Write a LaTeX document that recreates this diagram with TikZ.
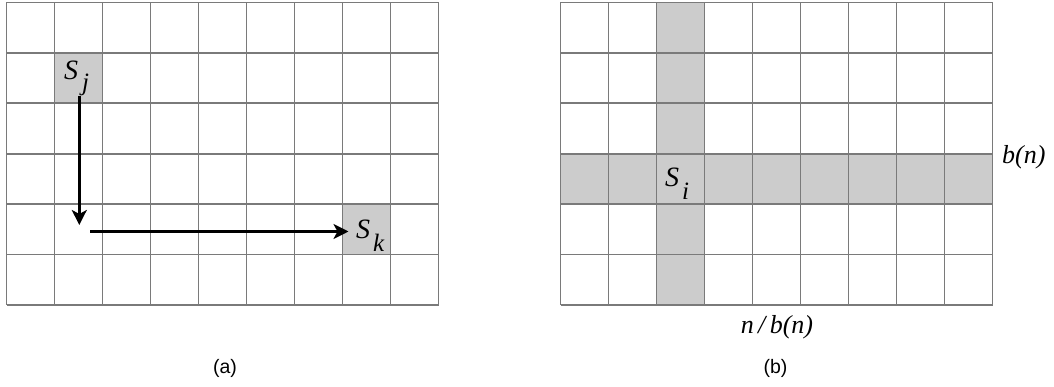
\documentclass[tikz,border=0pt]{standalone}
\usepackage{fontspec}
\setmainfont{Liberation Serif}
\setsansfont{Liberation Sans}
\usetikzlibrary{positioning,calc,arrows.meta}
\definecolor{gridgray}{HTML}{7A7A7A}
\definecolor{cellfill}{HTML}{CCCCCC}

\begin{document}
\begin{tikzpicture}[x=1pt, y=-1pt,
  cell/.style={fill=cellfill, inner sep=0pt, minimum width=48pt,
               minimum height=50.4pt},
  gridline/.style={draw=gridgray, line width=1.8pt},
  lbl/.style={font=\fontsize{28}{30}\selectfont\itshape, inner sep=0pt},
  dimlbl/.style={font=\fontsize{26}{30}\selectfont\itshape, inner sep=0pt},
  figcap/.style={font=\sffamily\fontsize{19.5}{22}\selectfont, inner sep=0pt},
  flow/.style={line width=2.6pt, -{Stealth[length=15pt, width=15pt, inset=4pt]}},
]
\useasboundingbox (0,0) rectangle (1054,387);

% (a): two shaded cells
\node[cell] (sj) at (78.5,77.7) {};
\node[cell] (sk) at (366.5,229.2) {};

% (b): shaded column and row
\fill[cellfill] (656.5,2.5) rectangle (704.5,305);
\fill[cellfill] (560.5,153.7) rectangle (992.5,204.1);

% grid lines
\foreach \g in {6.5,560.5}{
  \foreach \i in {0,...,9}
    \draw[gridline] (\g+48*\i,2.5) -- (\g+48*\i,305);
  \foreach \j in {0,...,6}
    \draw[gridline] (\g,2.5+50.42*\j) -- (\g+432,2.5+50.42*\j);
}

% labels
\node[lbl, anchor=base west] (sjlbl) at (64,80)
  {S\kern4pt\raisebox{-11pt}{\fontsize{25}{28}\selectfont j}};
\node[lbl, anchor=base west] (sklbl) at (356,239)
  {S\kern3pt\raisebox{-13pt}{\fontsize{25}{28}\selectfont k}};
\node[lbl, anchor=base west] (silbl) at (665,187)
  {S\kern3pt\raisebox{-13pt}{\fontsize{25}{28}\selectfont i}};
\node[dimlbl, anchor=base west] (rows) at (1002,164) {b(n)};
\node[dimlbl, anchor=base] (cols) at (777,333) {n\,/\,b(n)};

% arrows
\coordinate (jstart) at (79.3,96);
\coordinate (jend) at (79.3,225);
\coordinate (kstart) at (90,231.5);
\coordinate (kend) at (348.5,231.5);
\draw[flow] (jstart) -- (jend);
\draw[flow] (kstart) -- (kend);

% captions
\node[figcap, anchor=base] (capa) at (225,373) {(a)};
\node[figcap, anchor=base] (capb) at (775.5,373) {(b)};

\end{tikzpicture}
\end{document}
